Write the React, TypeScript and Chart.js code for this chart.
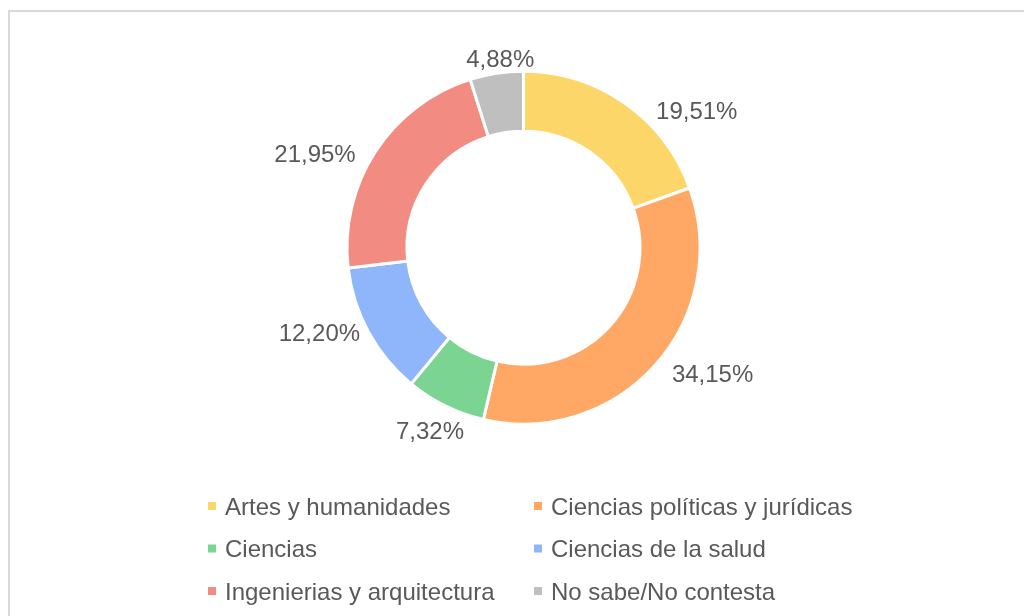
import React, { useEffect, useRef } from "react";
import { Chart, registerables } from "chart.js";

Chart.register(...registerables);

const categories = [
  "Artes y humanidades",
  "Ciencias políticas y jurídicas",
  "Ciencias",
  "Ciencias de la salud",
  "Ingenierias y arquitectura",
  "No sabe/No contesta",
];
const values = [19.51, 34.15, 7.32, 12.2, 21.95, 4.88];
const valueLabels = ["19,51%", "34,15%", "7,32%", "12,20%", "21,95%", "4,88%"];
const colors = ["#FDD66A", "#FFA866", "#7BD492", "#8FB6FA", "#F28B82", "#BFBFBF"];

// label placement tweaks (angle shift in degrees, radius in px from centre)
const LABEL_ANGLE_SHIFT = [16.5, -8.1, 0.8, 6.0, -8.5, 1.8];
const LABEL_RADIUS = [221, 227, 205, 221, 229, 191];

const FONT = "24px 'Liberation Sans', Arial, sans-serif";
const TEXT_COLOR = "#595959";

const labelPlugin = {
  id: "outerLabels",
  afterDatasetsDraw(chart: any) {
    const ctx = chart.ctx;
    const meta = chart.getDatasetMeta(0);
    ctx.save();
    ctx.font = FONT;
    ctx.fillStyle = TEXT_COLOR;
    ctx.textAlign = "center";
    ctx.textBaseline = "alphabetic";
    meta.data.forEach((arc: any, i: number) => {
      const { x, y, startAngle, endAngle } = arc.getProps(["x", "y", "startAngle", "endAngle"], true);
      const mid = (startAngle + endAngle) / 2 + (LABEL_ANGLE_SHIFT[i] * Math.PI) / 180;
      const r = LABEL_RADIUS[i];
      const lx = x + Math.cos(mid) * r;
      const ly = y + Math.sin(mid) * r;
      ctx.fillText(valueLabels[i], lx, ly + 8.6);
    });
    ctx.restore();
  },
};

const legendPlugin = {
  id: "gridLegend",
  afterDraw(chart: any) {
    const ctx = chart.ctx;
    ctx.save();
    ctx.font = FONT;
    ctx.textAlign = "left";
    ctx.textBaseline = "alphabetic";
    const colX = [225, 551];
    const rowY = [506, 548.5, 591];
    categories.forEach((c, i) => {
      const col = i % 2;
      const row = Math.floor(i / 2);
      const tx = colX[col];
      const ty = rowY[row];
      ctx.fillStyle = colors[i];
      ctx.fillRect(tx - 17, ty - 4, 8, 8);
      ctx.fillStyle = TEXT_COLOR;
      ctx.fillText(c, tx, ty + 8.6);
    });
    ctx.restore();
  },
};

export default function App() {
  const canvasRef = useRef<HTMLCanvasElement | null>(null);

  useEffect(() => {
    const canvas = canvasRef.current;
    if (!canvas) return;
    const chart = new Chart(canvas, {
      type: "doughnut",
      data: {
        labels: categories,
        datasets: [
          {
            data: values,
            backgroundColor: colors,
            borderColor: "#ffffff",
            borderWidth: 3,
            hoverOffset: 0,
          },
        ],
      },
      options: {
        responsive: false,
        animation: false,
        cutout: "66%",
        layout: {
          padding: { left: 345.5, right: 322.5, top: 69.7, bottom: 190.3 },
        },
        plugins: {
          legend: { display: false },
          tooltip: { enabled: false },
          title: { display: false },
        },
      },
      plugins: [labelPlugin, legendPlugin],
    });
    return () => chart.destroy();
  }, []);

  return (
    <div
      style={{
        position: "absolute",
        left: 0,
        top: 0,
        width: 1024,
        height: 616,
        overflow: "hidden",
        background: "#ffffff",
      }}
    >
      <div
        style={{
          position: "absolute",
          left: 8,
          top: 10,
          width: 1100,
          height: 700,
          border: "2px solid #d9d9d9",
          boxSizing: "border-box",
        }}
      />
      <canvas
        ref={canvasRef}
        width={1024}
        height={616}
        style={{ position: "absolute", left: 0, top: 0, width: 1024, height: 616 }}
      />
    </div>
  );
}
